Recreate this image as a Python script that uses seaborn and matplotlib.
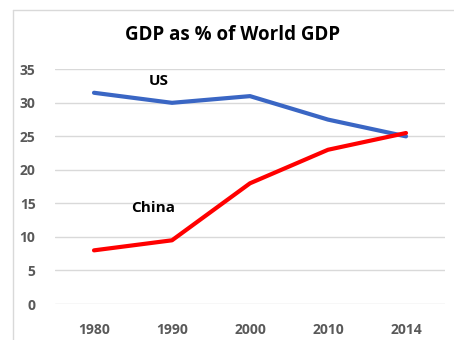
import matplotlib
matplotlib.use("Agg")
import matplotlib.pyplot as plt
import seaborn as sns
import pandas as pd
from matplotlib.lines import Line2D

years = ["1980", "1990", "2000", "2010", "2014"]
us = [31.5, 30.0, 31.0, 27.5, 25.0]
china = [8.0, 9.5, 18.0, 23.0, 25.5]
yticks = [0, 5, 10, 15, 20, 25, 30, 35]

sns.set_theme(style="white")
plt.rcParams['font.family'] = ['Open Sans', 'DejaVu Sans']

df = pd.DataFrame({
    "idx": list(range(len(years))) * 2,
    "value": us + china,
    "country": ["US"] * len(years) + ["China"] * len(years),
})

fig = plt.figure(figsize=(4.54, 3.40), dpi=100)
ax = fig.add_axes([55/454, 36/340, 390/454, 234.7/340])

sns.lineplot(data=df, x="idx", y="value", hue="country",
             palette={"US": "#3A66C4", "China": "#FF0000"},
             linewidth=3.0, legend=False, ax=ax, zorder=3)

ax.set_xlim(-0.5, 4.5)
ax.set_ylim(0, 35)
ax.set_yticks(yticks)
ax.set_xticks(range(len(years)))
ax.set_xticklabels(years)
ax.set_xlabel("")
ax.set_ylabel("")
ax.grid(axis="y", color="#D9D9D9", linewidth=1.0)
ax.grid(axis="x", visible=False)
for s in ax.spines.values():
    s.set_visible(False)
ax.tick_params(axis="both", length=0, labelsize=10, labelcolor="#595959")
ax.tick_params(axis="y", pad=14)
ax.tick_params(axis="x", pad=14)
for lbl in ax.get_xticklabels() + ax.get_yticklabels():
    lbl.set_fontweight("bold")

ax.text(0.83, 33.3, "US", fontsize=11, fontweight="bold", color="black",
        ha="center", va="center")
ax.text(0.76, 14.3, "China", fontsize=11, fontweight="bold", color="black",
        ha="center", va="center")

fig.text(233/454, 1 - 35/340, "GDP as % of World GDP", fontsize=13.5,
         fontweight="bold", color="black", ha="center", va="center")

fig.add_artist(Line2D([13/454, 13/454], [0, 1 - 10/340], transform=fig.transFigure,
                      color="#D9D9D9", linewidth=1.0))
fig.add_artist(Line2D([13/454, 1], [1 - 10/340, 1 - 10/340], transform=fig.transFigure,
                      color="#D9D9D9", linewidth=1.0))

fig.savefig("out.png", dpi=100)
